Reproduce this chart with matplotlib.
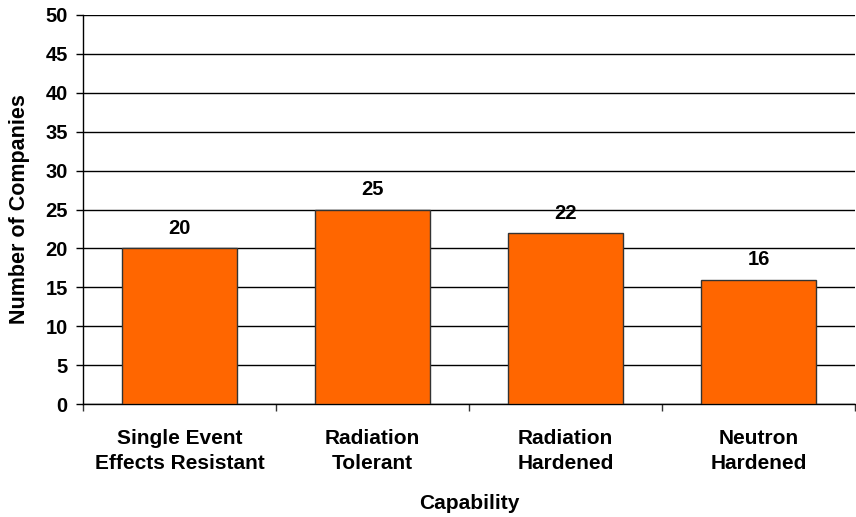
import numpy as np
import matplotlib.pyplot as plt

categories = ["Single Event\nEffects Resistant", "Radiation\nTolerant",
              "Radiation\nHardened", "Neutron\nHardened"]
counts = [20, 25, 22, 16]

plt.rcParams['font.family'] = ['Liberation Sans', 'DejaVu Sans']
plt.rcParams['font.weight'] = 'bold'

fig = plt.figure(figsize=(8.56, 5.17), dpi=100)
ax = fig.add_axes([83/856, 113/517, 772/856, 389/517])

x = np.arange(len(categories))
ax.bar(x, counts, width=0.6, color='#FF6600', edgecolor='#333333', linewidth=1, zorder=3)
for xi, v in zip(x, counts):
    ax.text(xi, v + 1.3, str(v), ha='center', va='bottom', fontsize=14.5, fontweight='bold')

ax.set_xlim(-0.5, len(categories) - 0.5)
ax.set_ylim(0, 50)
ax.set_yticks(np.arange(0, 51, 5))
ax.set_xticks(np.arange(-0.5, len(categories), 1.0))
ax.set_xticklabels([])
ax.set_xticks(x, minor=True)
ax.set_xticklabels(categories, minor=True, fontsize=15, fontweight='bold', linespacing=1.4)
ax.tick_params(axis='x', which='minor', length=0, pad=18)
ax.tick_params(axis='x', which='major', length=5, width=1, direction='out', color='#333333')
ax.tick_params(axis='y', length=5, width=1, direction='out', labelsize=14.5, pad=6)

ax.yaxis.grid(True, color='black', linewidth=1, zorder=0)
ax.spines['top'].set_visible(False)
ax.spines['right'].set_visible(False)
ax.spines['left'].set_linewidth(1)
ax.spines['bottom'].set_linewidth(1)

ax.set_ylabel("Number of Companies", fontsize=15.5, fontweight='bold', labelpad=11)
ax.set_xlabel("Capability", fontsize=15, fontweight='bold', labelpad=15)

fig.savefig("out.png", dpi=100)
